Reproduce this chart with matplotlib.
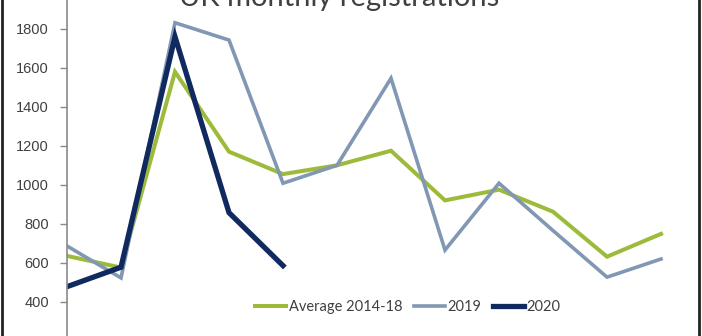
import matplotlib
matplotlib.use("Agg")
import matplotlib.pyplot as plt
from matplotlib.lines import Line2D

# monthly values
months = list(range(12))
avg_1418 = [635, 575, 1580, 1170, 1055, 1100, 1175, 920, 975, 862, 631, 748]
reg_2019 = [686, 522, 1832, 1743, 1008, 1100, 1547, 665, 1008, 765, 526, 619]
reg_2020 = [477, 577, 1760, 857, 585]
yticks = [0, 200, 400, 600, 800, 1000, 1200, 1400, 1600, 1800, 2000]

c_avg = "#9dbb3a"
c_2019 = "#8197b3"
c_2020 = "#10295e"

W, H = 702, 336
fig = plt.figure(figsize=(W / 100, H / 100), dpi=100)

# axes placed so that the top/bottom are cropped like the reference
x0, x1 = 67, 697
y_top, y_bot = -10.0, 379.6
ax = fig.add_axes([x0 / W, (H - y_bot) / H, (x1 - x0) / W, (y_bot - y_top) / H])

ax.plot(months, avg_1418, color=c_avg, lw=2.9, solid_joinstyle="miter")
ax.plot(months, reg_2019, color=c_2019, lw=2.6, solid_joinstyle="miter")
ax.plot(months[:len(reg_2020)], reg_2020, color=c_2020, lw=3.8, solid_joinstyle="miter")

ax.set_xlim(0, (x1 - x0) / 54.0)
ax.set_ylim(0, 2000)
ax.set_yticks(yticks)
ax.set_xticks([])
for s in ["top", "right", "bottom"]:
    ax.spines[s].set_visible(False)
ax.spines["left"].set_color("#8a8a8a")
ax.spines["left"].set_linewidth(1.2)
ax.tick_params(axis="y", length=5, width=1, color="#8a8a8a", pad=8,
               labelsize=10.5, labelcolor="#404040")
for t in ax.get_yticklabels():
    t.set_fontfamily("Liberation Sans")

# title, partly cut off at the top
fig.text(0.483, 1 - 6 / H, "UK monthly registrations", ha="center", va="baseline",
         fontsize=21, color="#404040", family="Lato")

legend_elements = [
    Line2D([0], [0], color=c_avg, lw=2.9, label="Average 2014-18"),
    Line2D([0], [0], color=c_2019, lw=2.6, label="2019"),
    Line2D([0], [0], color=c_2020, lw=3.8, label="2020"),
]
fig.legend(handles=legend_elements, loc="center", bbox_to_anchor=(0.581, (H - 307) / H),
           ncol=3, frameon=False, handlelength=2.1, handletextpad=0.2,
           columnspacing=0.8, prop={"family": "Lato", "size": 10.5},
           labelcolor="#404040")

# thin dark frame at the image edges
fig.add_artist(Line2D([1.5 / W, 1.5 / W], [0, 1], color="#222222", lw=2, transform=fig.transFigure))
fig.add_artist(Line2D([698.5 / W, 698.5 / W], [0, 1], color="#222222", lw=2, transform=fig.transFigure))

fig.savefig("out.png", dpi=100)
